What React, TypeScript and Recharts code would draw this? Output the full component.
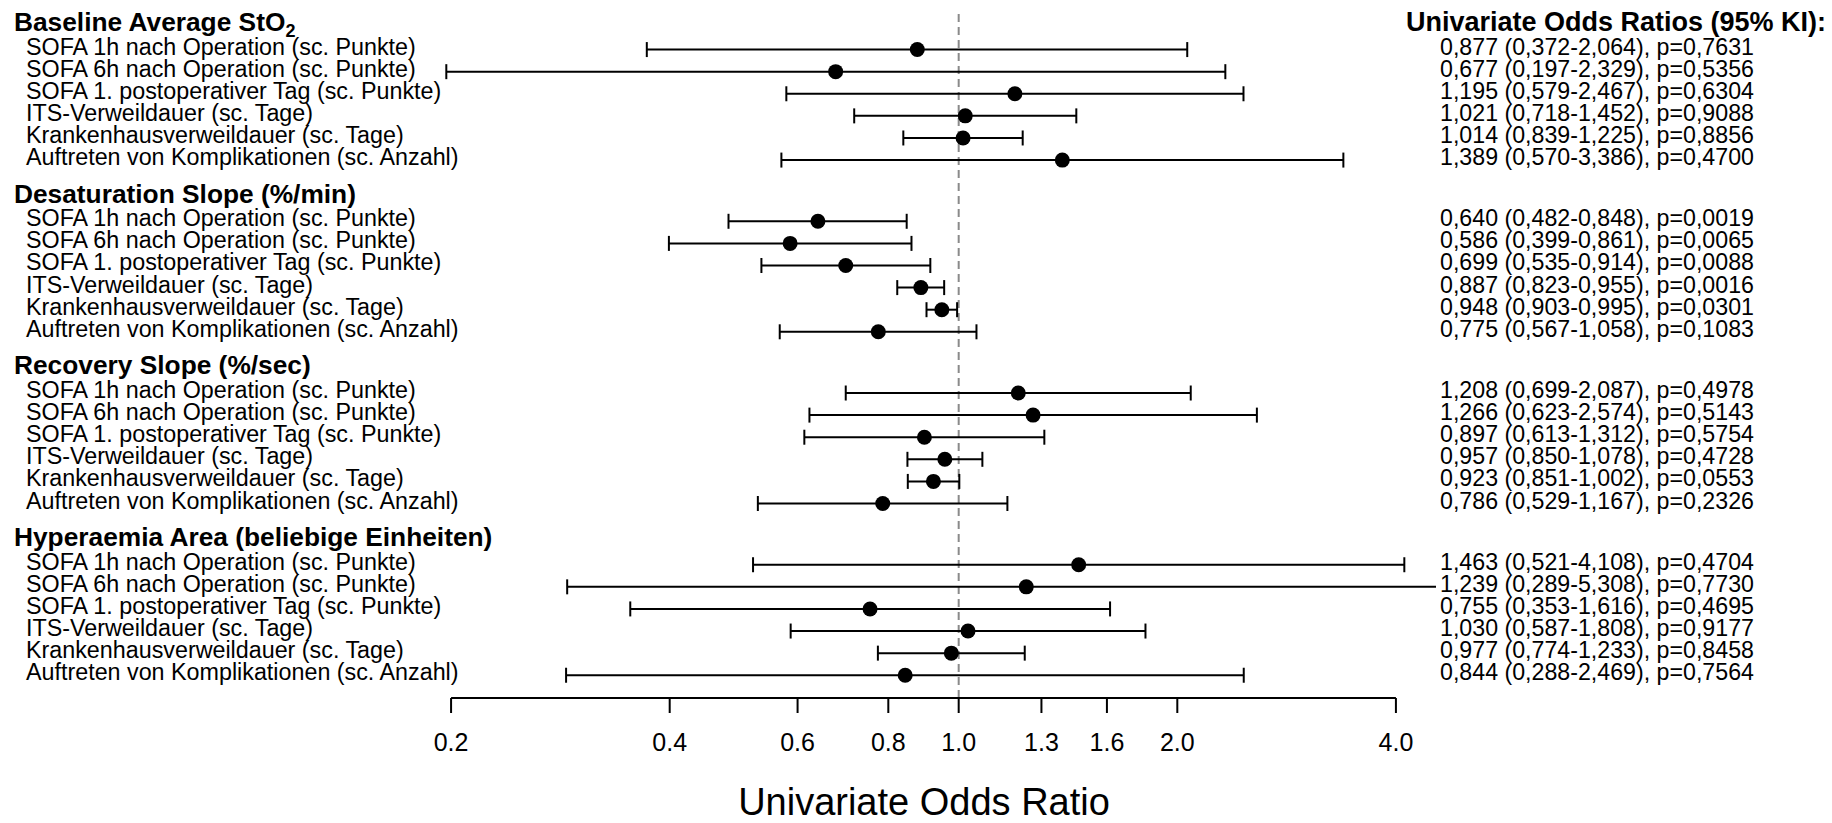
import React from 'react';
import { ComposedChart, Scatter, XAxis, YAxis, ErrorBar, ReferenceLine } from 'recharts';

// ---------- data ----------
const sectionTitles = [
  'Baseline Average StO',
  'Desaturation Slope (%/min)',
  'Recovery Slope (%/sec)',
  'Hyperaemia Area (beliebige Einheiten)',
];
const sectionSubscripts = ['2', '', '', ''];

const outcomes = [
  'SOFA 1h nach Operation (sc. Punkte)',
  'SOFA 6h nach Operation (sc. Punkte)',
  'SOFA 1. postoperativer Tag (sc. Punkte)',
  'ITS-Verweildauer (sc. Tage)',
  'Krankenhausverweildauer (sc. Tage)',
  'Auftreten von Komplikationen (sc. Anzahl)',
];

const baselineOR = [0.877, 0.677, 1.195, 1.021, 1.014, 1.389];
const baselineLow = [0.372, 0.197, 0.579, 0.718, 0.839, 0.57];
const baselineHigh = [2.064, 2.329, 2.467, 1.452, 1.225, 3.386];
const baselineP = [0.7631, 0.5356, 0.6304, 0.9088, 0.8856, 0.47];

const desatOR = [0.64, 0.586, 0.699, 0.887, 0.948, 0.775];
const desatLow = [0.482, 0.399, 0.535, 0.823, 0.903, 0.567];
const desatHigh = [0.848, 0.861, 0.914, 0.955, 0.995, 1.058];
const desatP = [0.0019, 0.0065, 0.0088, 0.0016, 0.0301, 0.1083];

const recovOR = [1.208, 1.266, 0.897, 0.957, 0.923, 0.786];
const recovLow = [0.699, 0.623, 0.613, 0.85, 0.851, 0.529];
const recovHigh = [2.087, 2.574, 1.312, 1.078, 1.002, 1.167];
const recovP = [0.4978, 0.5143, 0.5754, 0.4728, 0.0553, 0.2326];

const hyperOR = [1.463, 1.239, 0.755, 1.03, 0.977, 0.844];
const hyperLow = [0.521, 0.289, 0.353, 0.587, 0.774, 0.288];
const hyperHigh = [4.108, 5.308, 1.616, 1.808, 1.233, 2.469];
const hyperP = [0.4704, 0.773, 0.4695, 0.9177, 0.8458, 0.7564];

const xTicks = [0.2, 0.4, 0.6, 0.8, 1.0, 1.3, 1.6, 2.0, 4.0];
const xTickLabels = ['0.2', '0.4', '0.6', '0.8', '1.0', '1.3', '1.6', '2.0', '4.0'];

const xAxisTitle = 'Univariate Odds Ratio';
const rightHeader = 'Univariate Odds Ratios (95% KI):';

// ---------- layout ----------
const W = 1832;
const H = 823;
const FONT = '"Liberation Sans", Arial, Helvetica, sans-serif';
const SECTION_PERIOD = 7.77;
const HEADER_GAP = 1.2;
const Y_MIN = -0.5;
const Y_MAX = 3 * SECTION_PERIOD + HEADER_GAP + 5 + 1.03;
const X_DOMAIN: [number, number] = [0.1931, 4.542];
const PLOT_LEFT = 440;
const PLOT_RIGHT = 1436;

const sectionData = [
  [baselineOR, baselineLow, baselineHigh, baselineP],
  [desatOR, desatLow, desatHigh, desatP],
  [recovOR, recovLow, recovHigh, recovP],
  [hyperOR, hyperLow, hyperHigh, hyperP],
];

const fmt = (v: number, d: number) => v.toFixed(d).replace('.', ',');

type Row = {
  kind: 'header' | 'row';
  y: number;
  text: string;
  sub?: string;
  right?: string;
  x?: number;
  err?: [number, number];
  section: number;
};

const rows: Row[] = [];
const points: Row[] = [];
sectionData.forEach(([or, lo, hi, p], s) => {
  const base = s * SECTION_PERIOD;
  rows.push({ kind: 'header', y: base, text: sectionTitles[s], sub: sectionSubscripts[s], section: s });
  outcomes.forEach((name, r) => {
    const item: Row = {
      kind: 'row',
      y: base + HEADER_GAP + r,
      text: name,
      right: `${fmt(or[r], 3)} (${fmt(lo[r], 3)}-${fmt(hi[r], 3)}), p=${fmt(p[r], 4)}`,
      x: or[r],
      err: [or[r] - lo[r], hi[r] - or[r]],
      section: s,
    };
    rows.push(item);
    points.push(item);
  });
});

const yTicks = rows.map((r) => r.y);

const YTick = (props: any) => {
  const { y, payload } = props;
  const row = rows.find((r) => Math.abs(r.y - payload.value) < 1e-6);
  if (!row) return null;
  if (row.kind === 'header') {
    return (
      <g>
        <text x={14} y={y + 8} fontSize={26.3} fontWeight="bold" fill="#000" fontFamily={FONT}>
          {row.text}
          {row.sub ? (
            <tspan dy={6} fontSize={18}>
              {row.sub}
            </tspan>
          ) : null}
        </text>
        {row.section === 0 ? (
          <text x={1826} y={y + 8} fontSize={27} fontWeight="bold" fill="#000" textAnchor="end" fontFamily={FONT}>
            {rightHeader}
          </text>
        ) : null}
      </g>
    );
  }
  return (
    <g>
      <text x={26} y={y + 5} fontSize={23.3} fill="#000" fontFamily={FONT}>
        {row.text}
      </text>
      <text x={1440} y={y + 5} fontSize={23.2} fill="#000" fontFamily={FONT}>
        {row.right}
      </text>
    </g>
  );
};

const Dot = (p: any) => <circle cx={p.cx} cy={p.cy} r={7.5} fill="#000" />;

const TitleLabel = () => (
  <text x={924} y={815} fontSize={38} fill="#000" textAnchor="middle" fontFamily={FONT}>
    {xAxisTitle}
  </text>
);

export default function App() {
  return (
    <div style={{ position: 'absolute', left: 0, top: 0, width: W, height: H, background: '#fff', fontFamily: FONT }}>
      <style>{`.recharts-errorBar, .recharts-errorBars line { clip-path: url(#orPlotClip); }`}</style>
      <svg width={0} height={0} style={{ position: 'absolute', left: 0, top: 0 }}>
        <defs>
          <clipPath id="orPlotClip" clipPathUnits="userSpaceOnUse">
            <rect x={PLOT_LEFT} y={0} width={PLOT_RIGHT - PLOT_LEFT} height={H} />
          </clipPath>
        </defs>
      </svg>
      <ComposedChart width={W} height={H} data={points} margin={{ top: 12, right: W - PLOT_RIGHT, bottom: 65, left: 0 }}>
        <XAxis
          type="number"
          dataKey="x"
          scale="log"
          domain={X_DOMAIN}
          allowDataOverflow
          ticks={xTicks}
          interval={0}
          tickFormatter={(v: number) => xTickLabels[xTicks.indexOf(v)] ?? String(v)}
          axisLine={false}
          tickLine={{ stroke: '#000', strokeWidth: 2 }}
          tickSize={15}
          tickMargin={20}
          tick={{ fill: '#000', fontSize: 25, fontFamily: FONT }}
          height={60}
          label={<TitleLabel />}
        />
        <YAxis
          type="number"
          dataKey="y"
          domain={[Y_MIN, Y_MAX]}
          reversed
          allowDataOverflow
          ticks={yTicks}
          interval={0}
          width={PLOT_LEFT}
          axisLine={false}
          tickLine={false}
          tick={<YTick />}
        />
        <ReferenceLine x={1} stroke="#8a8a8a" strokeWidth={2} strokeDasharray="8 5" />
        <ReferenceLine
          segment={[
            { x: xTicks[0], y: Y_MAX },
            { x: xTicks[xTicks.length - 1], y: Y_MAX },
          ]}
          stroke="#000"
          strokeWidth={2}
          ifOverflow="visible"
        />
        <Scatter data={points} dataKey="y" fill="#000" shape={<Dot />} isAnimationActive={false}>
          <ErrorBar
            dataKey="err"
            direction="x"
            width={7.5}
            stroke="#000"
            strokeWidth={2}
            clipPath="url(#orPlotClip)"
            isAnimationActive={false}
          />
        </Scatter>
      </ComposedChart>
    </div>
  );
}
